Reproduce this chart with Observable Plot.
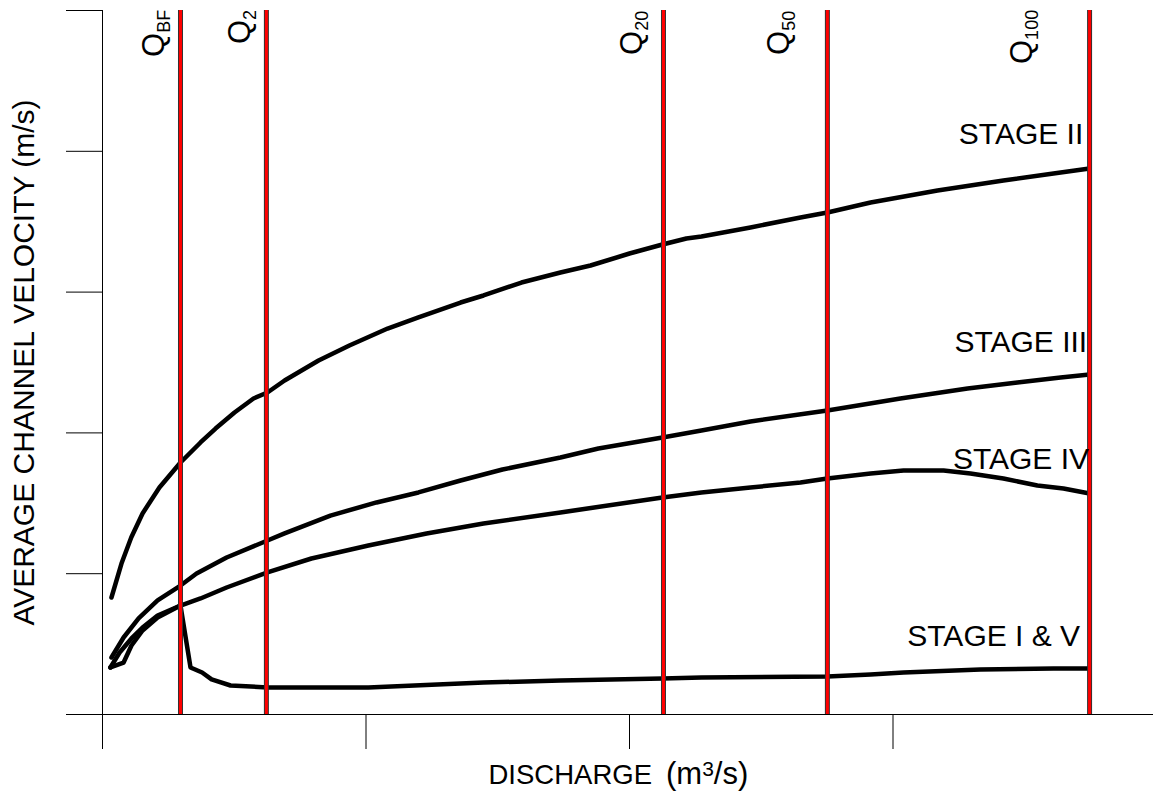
<!DOCTYPE html>
<html><head><meta charset="utf-8">
<script src="https://cdn.jsdelivr.net/npm/d3@7"></script>
<script src="https://cdn.jsdelivr.net/npm/@observablehq/plot@0.6"></script>
<style>
html,body{margin:0;padding:0;background:#fff;}
#chart svg{display:block;}
</style></head><body><div id="chart"></div>
<script>
// Stage curves (discharge and velocity in axis-tick units; the original axes are unlabelled)
const stage2X = [0.034,0.072,0.109,0.152,0.216,0.296,0.372,0.429,0.501,0.573,0.626,0.691,0.820,0.937,1.082,1.199,1.359,1.446,1.590,1.738,1.852,2.000,2.125,2.216,2.273,2.459,2.649,2.751,2.915,3.169,3.419,3.609,3.746];
const stage2Y = [0.831,1.072,1.257,1.428,1.612,1.790,1.932,2.031,2.145,2.244,2.287,2.372,2.514,2.621,2.741,2.820,2.926,2.976,3.068,3.139,3.189,3.274,3.338,3.381,3.395,3.459,3.530,3.565,3.636,3.722,3.793,3.842,3.878];
const stage3X = [0.034,0.080,0.137,0.209,0.296,0.357,0.471,0.626,0.691,0.865,1.040,1.199,1.359,1.518,1.738,1.882,2.125,2.273,2.459,2.751,3.028,3.283,3.472,3.636,3.746];
const stage3Y = [0.405,0.547,0.682,0.810,0.916,1.001,1.115,1.236,1.286,1.413,1.506,1.577,1.662,1.740,1.825,1.889,1.967,2.017,2.081,2.159,2.244,2.315,2.358,2.393,2.415];
const stage4X = [0.030,0.065,0.110,0.152,0.209,0.296,0.372,0.471,0.626,0.793,1.009,1.230,1.446,1.738,2.125,2.273,2.459,2.649,2.751,2.915,3.040,3.192,3.294,3.419,3.548,3.647,3.746];
const stage4Y = [0.334,0.440,0.540,0.618,0.703,0.774,0.824,0.902,1.009,1.108,1.200,1.286,1.357,1.435,1.541,1.577,1.612,1.648,1.676,1.712,1.733,1.733,1.712,1.676,1.626,1.605,1.570];
const stage15X = [0.030,0.080,0.110,0.152,0.209,0.296,0.334,0.378,0.414,0.486,0.626,1.009,1.446,1.738,2.125,2.273,2.751,2.915,3.040,3.332,3.609,3.746];
const stage15Y = [0.334,0.369,0.490,0.597,0.689,0.774,0.334,0.298,0.249,0.206,0.192,0.192,0.227,0.241,0.256,0.263,0.270,0.284,0.298,0.320,0.327,0.327];

// Flow recurrence lines
const flowLines = [0.296, 0.622, 2.129, 2.751, 3.746];
const flowSubs = ["BF", "2", "20", "50", "100"];
const flowLabelX = [0.235, 0.558, 2.049, 2.607, 3.529];
const flowLabelY = [4.670, 4.762, 4.684, 4.684, 4.620];

// Stage labels
const stageNames = ["STAGE II", "STAGE III", "STAGE IV", "STAGE I & V"];
const stageLabelX = [3.722, 3.737, 3.744, 3.710];
const stageLabelY = [4.055, 2.578, 1.747, 0.490];

const xTicks = [0, 1, 2, 3];
const yTicks = [0, 1, 2, 3, 4, 5];

const series = [["II", stage2X, stage2Y], ["III", stage3X, stage3Y], ["IV", stage4X, stage4Y], ["I&V", stage15X, stage15Y]]
  .flatMap(([s, xs, ys]) => xs.map((x, i) => ({stage: s, x, y: ys[i]})));

const plot = Plot.plot({
  width: 1153, height: 792,
  marginTop: 10, marginBottom: 78, marginLeft: 102, marginRight: 0,
  style: {fontFamily: "'Liberation Sans', Arial, sans-serif", fontSize: "28px", color: "#000", background: "#fff"},
  x: {domain: [0, 1051 / 263.5], ticks: xTicks, tickSize: 35, tickFormat: () => "", line: true, label: null},
  y: {domain: [0, 5], ticks: yTicks, tickSize: 36, tickFormat: () => "", line: true, label: null},
  marks: [
    Plot.line(series, {x: "x", y: "y", z: "stage", stroke: "#000", strokeWidth: 4.5, strokeLinejoin: "round", strokeLinecap: "round"}),
    Plot.ruleX(flowLines, {y1: 0, y2: 5, stroke: "#333", strokeWidth: 5}),
    Plot.ruleX(flowLines, {y1: 0, y2: 5, stroke: "#ff0000", strokeWidth: 3}),
    Plot.text(stageNames, {x: (d, i) => stageLabelX[i], y: (d, i) => stageLabelY[i], text: d => d, textAnchor: "end", lineAnchor: "bottom", fontSize: 30, fill: "#000"}),
    Plot.text(flowSubs, {x: (d, i) => flowLabelX[i], y: (d, i) => flowLabelY[i], text: () => "Q", rotate: -90, textAnchor: "start", lineAnchor: "bottom", fontSize: 31, fill: "#000"}),
    Plot.text(["DISCHARGE"], {frameAnchor: "bottom-left", text: d => d, dx: 386, dy: 69, textAnchor: "start", lineAnchor: "bottom", fontSize: 27.5, fill: "#000"}),
    Plot.text(["AVERAGE CHANNEL VELOCITY (m/s)"], {frameAnchor: "left", text: d => d, rotate: -90, dx: -69, textAnchor: "middle", lineAnchor: "bottom", fontSize: 30, fill: "#000"})
  ]
});

document.getElementById("chart").appendChild(plot);
const svg = d3.select(plot.tagName.toLowerCase() === "svg" ? plot : plot.querySelector("svg"));
svg.selectAll("text").filter(function() { return this.textContent === "Q"; })
  .each(function(_, i) {
    d3.select(this).append("tspan").attr("dy", 6).attr("font-size", 18).text(flowSubs[i]);
  });
svg.selectAll("text").filter(function() { return this.textContent === "DISCHARGE"; })
  .each(function() {
    const t = d3.select(this);
    t.append("tspan").attr("dx", 14).attr("font-size", 31).text("(m");
    t.append("tspan").attr("dy", -8).attr("font-size", 21).text("3");
    t.append("tspan").attr("dy", 8).attr("font-size", 31).text("/s)");
  });
</script>
</body></html>
